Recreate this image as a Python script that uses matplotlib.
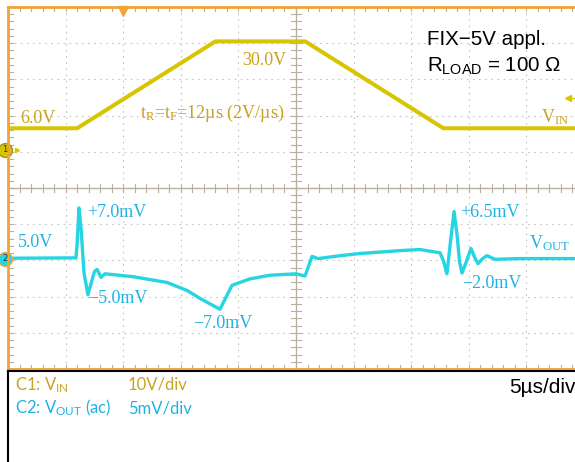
import matplotlib.pyplot as plt
import numpy as np

# VIN ramp (time in us, volts)
vin_t = [0.0, 6.0, 18.0, 25.8, 37.8, 49.3]
vin_v = [6.0, 6.0, 30.0, 30.0, 6.0, 6.0]

# VOUT ac ripple (time in us, mV around 5.0 V)
vout_t = [0.0, 5.9, 6.0, 6.16, 6.35, 6.6, 6.94, 7.2, 7.5, 7.73, 7.9, 8.07,
          8.42, 10.85, 13.8, 15.54, 16.67, 18.4, 19.44, 21.0, 22.74, 25.0,
          25.78, 26.1, 26.39, 26.91, 28.82, 30.56, 34.03, 35.76, 37.5, 37.8,
          38.1, 38.35, 38.72, 39.0, 39.2, 39.41, 39.7, 40.19, 40.5, 40.8,
          41.2, 41.58, 42.27, 44.44, 49.3]
vout_mv = [0.05, 0.1, 2.0, 7.0, 4.0, -2.0, -5.0, -3.5, -1.8, -1.5, -2.0, -2.6,
           -2.1, -2.5, -3.3, -4.4, -5.5, -7.0, -3.7, -2.8, -2.3, -2.1,
           -2.4, -1.0, 0.3, 0.0, 0.4, 0.7, 1.1, 1.25, 0.8, -0.3,
           -2.1, 1.5, 6.5, 3.0, -0.5, -2.0, -0.8, 1.4, 0.2, -0.7,
           0.0, 0.4, -0.1, 0.0, 0.0]

W, H = 575, 462
DIV_X = 57.6
YELLOW = '#D8C400'
GOLD = '#C9A21E'
CYAN = '#25D5E2'
CYAN_TXT = '#1EB2E6'
ORANGE = '#F2A33A'
AXIS = '#B8B0A0'

def at(x, y):
    return x / W, 1 - y / H

fig = plt.figure(figsize=(W / 100, H / 100), dpi=100)

ax = fig.add_axes([8 / W, (H - 369) / H, (W - 8) / W, (369 - 7) / H])
xmax = (W - 8) / DIV_X * 5
ax.set_xlim(0, xmax)
ax.set_ylim(0, 10)
ax.set_xticks([])
ax.set_yticks([])
ax.spines['right'].set_visible(False)
for s in ['left', 'top', 'bottom']:
    ax.spines[s].set_color(ORANGE)
    ax.spines[s].set_linewidth(2)

# scope graticule
for gx in range(5, 50, 5):
    if gx != 25:
        ax.axvline(gx, color='#C4C4C4', lw=0.8, ls=(0, (1.5, 4)))
for gy in range(1, 10):
    if gy != 5:
        ax.axhline(gy, color='#C4C4C4', lw=0.8, ls=(0, (1.5, 4)))
ax.axvline(25, color=AXIS, lw=1)
ax.axhline(5, color=AXIS, lw=1)
for t in np.arange(1, 50, 1):
    ax.plot([t, t], [4.9, 5.1], color=AXIS, lw=0.8)
    ax.plot([t, t], [9.88, 10], color=AXIS, lw=0.8)
    ax.plot([t, t], [0, 0.12], color=AXIS, lw=0.8)
for d in np.arange(0.2, 10, 0.2):
    ax.plot([24.6, 25.4], [d, d], color=AXIS, lw=0.8)
    ax.plot([0, 0.45], [d, d], color=AXIS, lw=0.8)

# channel traces
ch1_gnd = 6.05
ch2_gnd = 3.05
ax.plot(vin_t, ch1_gnd + np.array(vin_v) / 10, color=YELLOW, lw=2.9,
        solid_joinstyle='round')
ax.plot(vout_t, ch2_gnd + np.array(vout_mv) / 5, color=CYAN, lw=2.4,
        solid_joinstyle='round')

# channel ground markers, trigger markers
ax.plot(-0.26, ch1_gnd, 'o', ms=10, mfc=YELLOW, mec='#A89020', clip_on=False)
ax.text(-0.26, ch1_gnd, '1', fontsize=6, ha='center', va='center', color='#333333')
ax.plot(0.8, ch1_gnd, '>', ms=3, color=YELLOW, clip_on=False)
ax.plot(-0.26, ch2_gnd, 'o', ms=10, mfc=CYAN, mec=ORANGE, clip_on=False)
ax.text(-0.26, ch2_gnd, '2', fontsize=6, ha='center', va='center', color='#333333')
ax.plot(10, 9.9, 'v', ms=7, color=ORANGE, clip_on=False)
ax.plot([48.6, 49.3], [7.5, 7.5], color=YELLOW, lw=1)
ax.plot(48.6, 7.5, '<', ms=4, color=YELLOW)

serif = 'Liberation Serif'
sans = 'Liberation Sans'
fig.text(*at(20, 123), '6.0V', color=GOLD, family=serif, fontsize=13)
fig.text(*at(242, 65), '30.0V', color=GOLD, family=serif, fontsize=13)
fig.text(*at(140, 118), r'$\mathregular{t_R}$=$\mathregular{t_F}$=12µs (2V/µs)',
         color=GOLD, family=serif, fontsize=13)
fig.text(*at(541, 122), r'$\mathregular{V_{IN}}$', color=GOLD, family=serif, fontsize=13)
fig.text(*at(427, 45), 'FIX\u22125V appl.', color='black', family=sans, fontsize=14.8)
fig.text(*at(427, 72), r'$\mathregular{R_{LOAD}}$ = 100 Ω', color='black',
         family=sans, fontsize=14.8)

fig.text(*at(18, 247), '5.0V', color=CYAN_TXT, family=serif, fontsize=13)
fig.text(*at(87, 217), '+7.0mV', color=CYAN_TXT, family=serif, fontsize=13)
fig.text(*at(88, 303), '\u22125.0mV', color=CYAN_TXT, family=serif, fontsize=13)
fig.text(*at(193, 328), '\u22127.0mV', color=CYAN_TXT, family=serif, fontsize=13)
fig.text(*at(460, 217), '+6.5mV', color=CYAN_TXT, family=serif, fontsize=13)
fig.text(*at(462, 288), '\u22122.0mV', color=CYAN_TXT, family=serif, fontsize=13)
fig.text(*at(529, 248), r'$\mathregular{V_{OUT}}$', color=CYAN_TXT, family=serif,
         fontsize=13)

# settings panel
box = fig.add_axes([8 / W, 0, (W - 8) / W, (H - 371) / H])
box.set_xticks([])
box.set_yticks([])
box.spines['right'].set_visible(False)
box.spines['bottom'].set_visible(False)
box.spines['left'].set_linewidth(1.5)
box.spines['top'].set_linewidth(1.5)

fig.text(*at(15, 390), r'C1: $\mathregular{V_{IN}}$', color=GOLD, family='Lato',
         fontsize=12)
fig.text(*at(128, 390), '10V/div', color=GOLD, family='Lato', fontsize=12)
fig.text(*at(15, 413), r'C2: $\mathregular{V_{OUT}}$ (ac)', color=CYAN_TXT,
         family='Lato', fontsize=12)
fig.text(*at(128, 413), '5mV/div', color=CYAN_TXT, family='Lato', fontsize=12)
fig.text(*at(509, 393), '5µs/div', color='black', family=sans, fontsize=15)

fig.savefig('out.png', dpi=100)
